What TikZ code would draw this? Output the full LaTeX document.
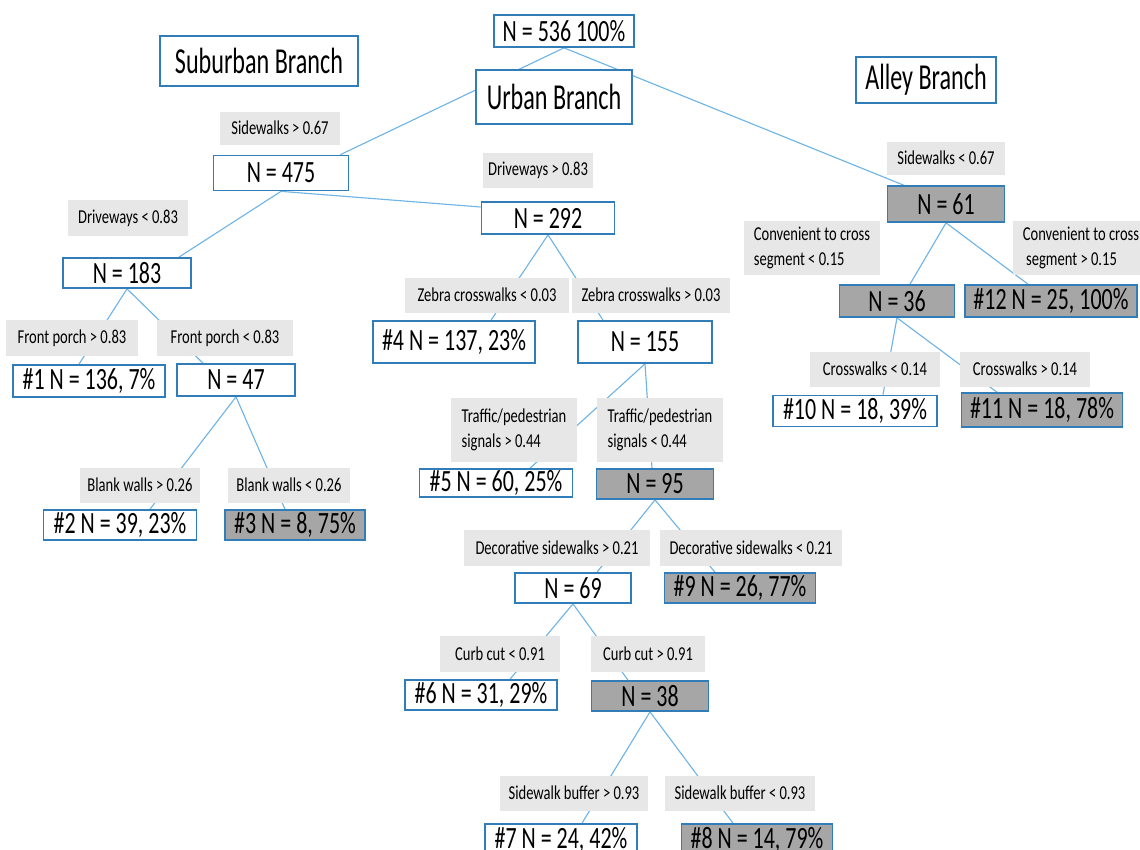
\documentclass[tikz,border=0pt]{standalone}
\usepackage{fontspec}
\setmainfont{Carlito}
\newfontfamily\nodefont{Carlito}[FakeStretch=0.71]
\newfontfamily\branchfont{Carlito}[FakeStretch=0.66]
\newfontfamily\splitfont{Carlito}[FakeStretch=0.74]
\usepackage{tikz}
\usetikzlibrary{calc,backgrounds}

\definecolor{boxblue}{RGB}{49,125,185}
\definecolor{edgeblue}{RGB}{110,180,230}
\definecolor{splitgray}{RGB}{231,231,231}
\definecolor{leafgray}{RGB}{166,166,166}

\tikzset{
    nbox/.style={draw=boxblue, line width=1.2pt, fill=white, inner sep=0pt,
        minimum height=0.8cm, font=\nodefont\fontsize{22}{24}\selectfont},
    leaf/.style={nbox, fill=leafgray},
    split/.style={fill=splitgray, inner sep=0pt, minimum height=0.875cm,
        align=left, font=\splitfont\fontsize{14}{18}\selectfont},
    branch/.style={draw=boxblue, line width=0.8pt, fill=white, inner sep=0pt,
        font=\branchfont\fontsize{26}{30}\selectfont},
    edge/.style={draw=edgeblue, line width=0.8pt},
}

\begin{document}
\begin{tikzpicture}[x=0.025cm,y=-0.025cm]
    \useasboundingbox (0,0) rectangle (1140,850);

    % titles
    \node[nbox, minimum width=3.5cm] (root) at (564,31) {N = 536 100\%};
    \node[branch, minimum width=3.9cm, minimum height=1.35cm] (urban) at (554,97) {Urban Branch};
    \node[branch, minimum width=4.95cm, minimum height=1.25cm] (suburban) at (259,61) {Suburban Branch};
    \node[branch, minimum width=3.5cm, minimum height=1.15cm] (alley) at (926,80) {Alley Branch};

    % urban / suburban side
    \node[split, minimum width=3cm, minimum height=0.825cm] (s475) at (280,128) {Sidewalks > 0.67};
    \node[nbox, minimum width=3.375cm, minimum height=0.875cm] (n475) at (281,173) {N = 475};
    \node[split, minimum width=2.75cm] (s292) at (538,170) {Driveways > 0.83};
    \node[nbox, minimum width=3.325cm] (n292) at (548,218) {N = 292};
    \node[split, minimum width=3cm, minimum height=0.9cm] (s183) at (128,218) {Driveways < 0.83};
    \node[nbox, minimum width=3.2cm, minimum height=0.75cm] (n183) at (127,273) {N = 183};

    \node[split, minimum width=3.275cm, minimum height=0.9cm] (s1) at (72,338) {Front porch > 0.83};
    \node[split, minimum width=3.4cm, minimum height=0.9cm] (s47) at (225,338) {Front porch < 0.83};
    \node[nbox, minimum width=3.8cm] (l1) at (89,381) {\#1 N = 136, 7\%};
    \node[nbox, minimum width=2.95cm] (n47) at (236,380) {N = 47};

    \node[split, minimum width=3cm] (s2) at (140,485) {Blank walls > 0.26};
    \node[split, minimum width=3.05cm] (s3) at (289,485) {Blank walls < 0.26};
    \node[nbox, minimum width=3.825cm, minimum height=0.75cm] (l2) at (120,525) {\#2 N = 39, 23\%};
    \node[leaf, minimum width=3.5cm, minimum height=0.75cm] (l3) at (295,525) {\#3 N = 8, 75\%};

    \node[split, minimum width=4.075cm] (s4) at (487,295) {Zebra crosswalks < 0.03};
    \node[split, minimum width=3.925cm] (s155) at (651,295) {Zebra crosswalks > 0.03};
    \node[nbox, minimum width=4.05cm, minimum height=1.05cm] (l4) at (454,342) {\#4 N = 137, 23\%};
    \node[nbox, minimum width=3.35cm, minimum height=1.05cm] (n155) at (645,342) {N = 155};

    \node[split, minimum width=3.15cm, minimum height=1.575cm] (s5) at (514,430) {Traffic/pedestrian\\signals > 0.44};
    \node[split, minimum width=3.125cm, minimum height=1.575cm] (s95) at (660,430) {Traffic/pedestrian\\signals < 0.44};
    \node[nbox, minimum width=3.825cm, minimum height=0.7cm] (l5) at (496,483) {\#5 N = 60, 25\%};
    \node[leaf, minimum width=2.925cm, minimum height=0.75cm] (n95) at (655,484) {N = 95};

    \node[split, minimum width=4.65cm, minimum height=0.9cm] (s69) at (557,548) {Decorative sidewalks > 0.21};
    \node[split, minimum width=4.55cm, minimum height=0.9cm] (s9) at (751,548) {Decorative sidewalks < 0.21};
    \node[nbox, minimum width=2.9cm, minimum height=0.75cm] (n69) at (573,588) {N = 69};
    \node[leaf, minimum width=3.775cm, minimum height=0.75cm] (l9) at (740,588) {\#9 N = 26, 77\%};

    \node[split, minimum width=3cm, minimum height=0.9cm] (s6) at (500,654) {Curb cut < 0.91};
    \node[split, minimum width=2.825cm, minimum height=0.9cm] (s38) at (648,654) {Curb cut > 0.91};
    \node[nbox, minimum width=3.8cm, minimum height=0.75cm] (l6) at (481,695) {\#6 N = 31, 29\%};
    \node[leaf, minimum width=2.925cm, minimum height=0.75cm] (n38) at (650,696) {N = 38};

    \node[split, minimum width=3.7cm] (s7) at (574,793) {Sidewalk buffer > 0.93};
    \node[split, minimum width=3.75cm] (s8) at (740,793) {Sidewalk buffer < 0.93};
    \node[nbox, minimum width=3.8cm] (l7) at (561,840) {\#7 N = 24, 42\%};
    \node[leaf, minimum width=3.775cm] (l8) at (757,840) {\#8 N = 14, 79\%};

    % alley side
    \node[split, minimum width=2.95cm, minimum height=0.825cm] (s61) at (946,158) {Sidewalks < 0.67};
    \node[leaf, minimum width=2.925cm, minimum height=0.9cm] (n61) at (946,204) {N = 61};
    \node[split, minimum width=3.375cm, minimum height=1.35cm] (s36) at (812,248) {Convenient to cross\\segment < 0.15};
    \node[split, minimum width=3.375cm, minimum height=1.35cm] (s12) at (1081,248) {Convenient to cross\\\ segment > 0.15};
    \node[leaf, minimum width=2.875cm] (n36) at (897,301) {N = 36};
    \node[leaf, minimum width=4.3cm] (l12) at (1051,301) {\#12 N = 25, 100\%};

    \node[split, minimum width=3.25cm] (s10) at (875,369) {Crosswalks < 0.14};
    \node[split, minimum width=3.25cm] (s11) at (1025,369) {Crosswalks > 0.14};
    \node[nbox, minimum width=4.1cm, minimum height=0.775cm] (l10) at (855,411) {\#10 N = 18, 39\%};
    \node[leaf, minimum width=4.025cm, minimum height=0.85cm] (l11) at (1042,410) {\#11 N = 18, 78\%};

    % connectors behind the boxes
    \begin{scope}[on background layer]
        \draw[edge] (root.south) -- ($(n475.north east)+(-9,0)$);
        \draw[edge] (root.south) -- ($(n61.north west)+(17,0)$);
        \draw[edge] (n475.south) -- ($(n183.north east)+(-13,0)$);
        \draw[edge] (n475.south) -- ($(n292.west)+(0,-11)$);
        \draw[edge] (n183.south) -- ($(l1.north)+(-10,0)$);
        \draw[edge] (n183.south) -- ($(n47.north)+(-33,0)$);
        \draw[edge] (n47.south) -- ($(l2.north)+(30,0)$);
        \draw[edge] (n47.south) -- ($(l3.north)+(-10,0)$);
        \draw[edge] (n292.south) -- ($(l4.north)+(37,0)$);
        \draw[edge] (n292.south) -- ($(n155.north)+(-42,0)$);
        \draw[edge] (n155.south) -- ($(l5.north)+(34,0)$);
        \draw[edge] (n155.south) -- ($(n95.north)+(-3,0)$);
        \draw[edge] (n95.south) -- ($(n69.north)+(24,0)$);
        \draw[edge] (n95.south) -- ($(l9.north)+(-25,0)$);
        \draw[edge] (n69.south) -- ($(l6.north)+(29,0)$);
        \draw[edge] (n69.south) -- ($(n38.north)+(-22,0)$);
        \draw[edge] (n38.south) -- ($(l7.north)+(21,0)$);
        \draw[edge] (n38.south) -- ($(l8.north)+(-24,0)$);
        \draw[edge] (n61.south) -- ($(n36.north)+(13,0)$);
        \draw[edge] (n61.south) -- ($(l12.north)+(-23,0)$);
        \draw[edge] (n36.south) -- ($(l10.north)+(28,0)$);
        \draw[edge] (n36.south) -- ($(l11.north)+(-45,0)$);
    \end{scope}
\end{tikzpicture}
\end{document}
